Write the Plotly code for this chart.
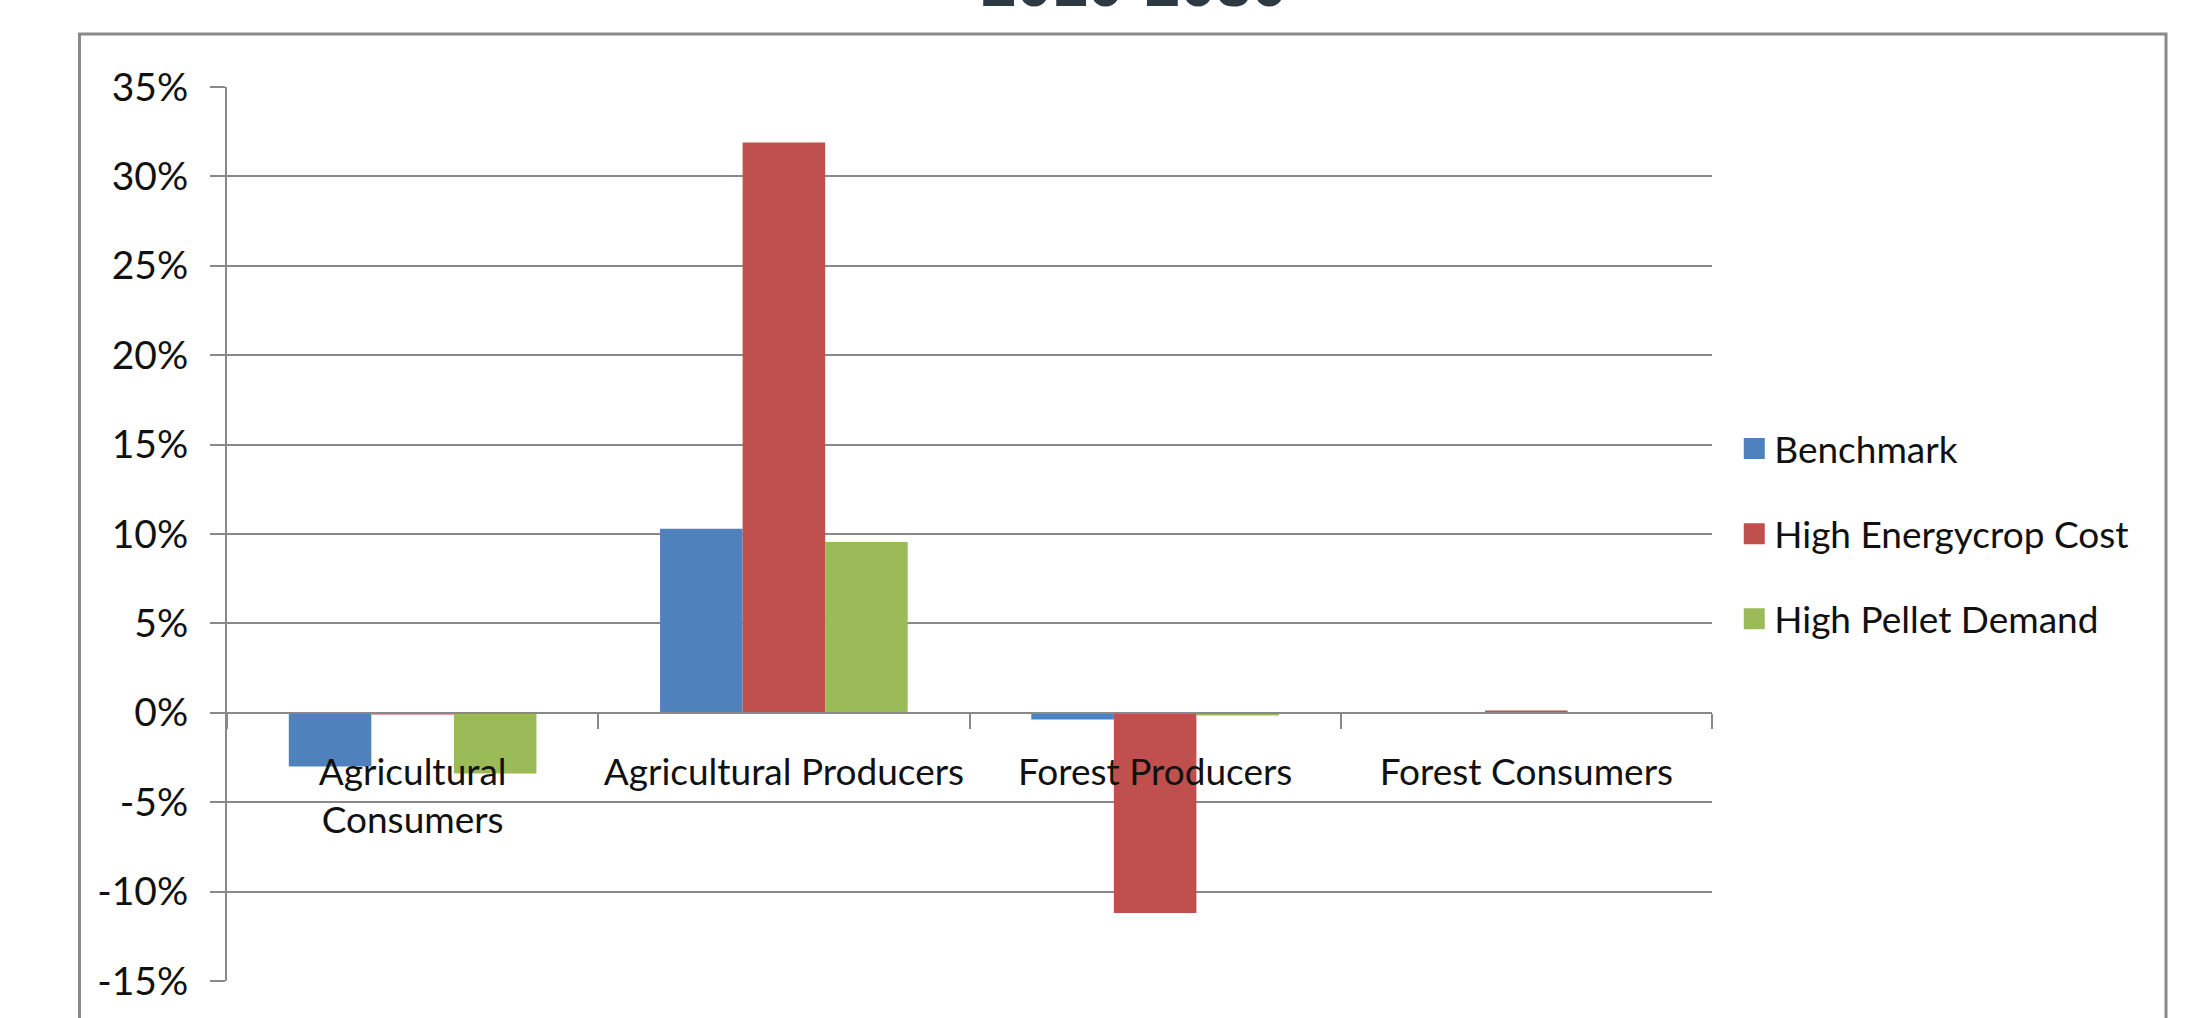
import plotly.graph_objects as go

# ---- data ----
categories = ["Agricultural<br>Consumers", "Agricultural Producers", "Forest Producers", "Forest Consumers"]
series_names = ["Benchmark", "High Energycrop Cost", "High Pellet Demand"]
benchmark = [-3.0, 10.3, -0.37, 0.0]
high_energycrop_cost = [-0.1, 31.9, -11.2, 0.13]
high_pellet_demand = [-3.4, 9.55, -0.15, 0.0]
series_values = [benchmark, high_energycrop_cost, high_pellet_demand]
colors = ["#4f81bd", "#c0504d", "#9bbb59"]
y_ticks = [-15, -10, -5, 0, 5, 10, 15, 20, 25, 30, 35]
y_tick_labels = [f"{v}%" for v in y_ticks]
y_range = [-15, 35]
title_text = "2010-2030"

# ---- layout geometry (pixels) ----
W, H = 2193, 1018
L, R, T, B = 227, 481, 87, 37
plot_w = W - L - R
plot_h = H - T - B
GRID = "#898989"

def px_to_paper_x(px):
    return (px - L) / plot_w

def px_to_paper_y(py):
    return (H - B - py) / plot_h

fig = go.Figure()
for name, vals, col in zip(series_names, series_values, colors):
    fig.add_trace(go.Bar(x=categories, y=vals, name=name, marker=dict(color=col, line=dict(width=0)),
                         showlegend=False))
# legend entries (larger square keys)
for name, col in zip(series_names, colors):
    fig.add_trace(go.Scatter(x=[None], y=[None], mode="markers", name=name, legendgroup=name,
                             marker=dict(symbol="square", size=16, color=col, line=dict(color=col, width=5))))

zero_pos = (0 - y_range[0]) / (y_range[1] - y_range[0])

fig.update_layout(
    width=W, height=H,
    margin=dict(l=L, r=R, t=T, b=B, pad=0),
    paper_bgcolor="white", plot_bgcolor="white",
    barmode="group", bargap=0.333, bargroupgap=0,
    showlegend=True,
    legend=dict(x=1.015, xanchor="left", y=0.5, yanchor="middle",
                font=dict(family="Lato", size=37, color="#111111"),
                tracegroupgap=34, itemwidth=30, bgcolor="rgba(0,0,0,0)"),
    xaxis=dict(type="category", anchor="free", position=zero_pos,
               showline=True, linecolor=GRID, linewidth=2,
               ticks="outside", tickson="boundaries", ticklen=15, tickcolor=GRID, tickwidth=2,
               showgrid=False, ticklabelstandoff=27,
               tickfont=dict(family="Lato", size=37, color="#111111")),
    yaxis=dict(range=y_range, tickmode="array", tickvals=y_ticks, ticktext=y_tick_labels,
               showline=True, linecolor=GRID, linewidth=2,
               ticks="outside", ticklen=15, tickcolor=GRID, tickwidth=2,
               showgrid=True, gridcolor=GRID, gridwidth=2, zeroline=False,
               ticklabelstandoff=14,
               tickfont=dict(family="Lato", size=39, color="#111111")),
    shapes=[dict(type="rect", xref="paper", yref="paper",
                 x0=px_to_paper_x(79.5), x1=px_to_paper_x(2166), y0=-0.3, y1=px_to_paper_y(34),
                 line=dict(color="#8a8a8a", width=3), fillcolor="rgba(0,0,0,0)", layer="below")],
    annotations=[dict(text="<b>" + title_text + "</b>", xref="paper", yref="paper",
                      x=px_to_paper_x(1134), y=px_to_paper_y(-16), xanchor="center", yanchor="middle",
                      showarrow=False,
                      font=dict(family="Liberation Sans", size=64, color="#2e3a43"))],
)

fig.write_html("out.html")
